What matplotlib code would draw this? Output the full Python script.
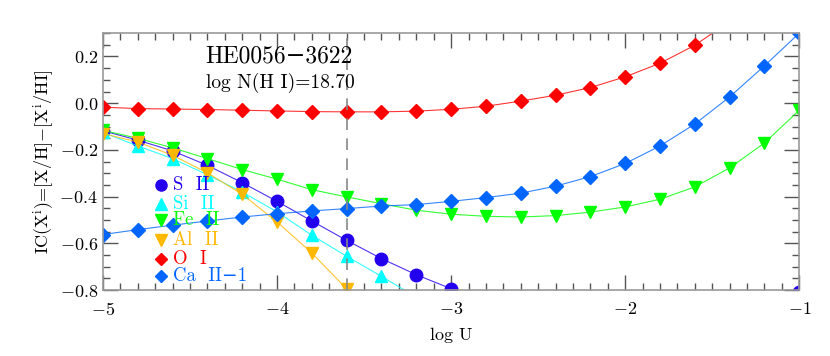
import numpy as np
import matplotlib
matplotlib.use("Agg")
import matplotlib.pyplot as plt
from matplotlib.ticker import MultipleLocator

plt.rcParams['font.family'] = ['cmr10', 'DejaVu Serif']
plt.rcParams['mathtext.fontset'] = 'cm'
plt.rcParams['axes.formatter.use_mathtext'] = True

# log U grid
logU = np.round(np.arange(-5.0, -0.99, 0.2), 1)

# ionisation corrections (nan = off the chart)
s2 = [-0.118, -0.158, -0.204, -0.266, -0.340, -0.420, -0.504, -0.587, -0.665, -0.734, -0.794,
      -0.85, np.nan, np.nan, np.nan, np.nan, np.nan, np.nan, np.nan, np.nan, -0.81]
si2 = [-0.125, -0.183, -0.237, -0.306, -0.380, -0.465, -0.565, -0.655, -0.741, -0.83,
       np.nan, np.nan, np.nan, np.nan, np.nan, np.nan, np.nan, np.nan, np.nan, np.nan, np.nan]
fe2 = [-0.116, -0.150, -0.191, -0.237, -0.284, -0.325, -0.370, -0.401, -0.430, -0.458, -0.475,
       -0.484, -0.487, -0.481, -0.466, -0.444, -0.411, -0.358, -0.277, -0.170, -0.030]
al2 = [-0.130, -0.166, -0.223, -0.298, -0.390, -0.508, -0.641, -0.795, -0.95,
       np.nan, np.nan, np.nan, np.nan, np.nan, np.nan, np.nan, np.nan, np.nan, np.nan, np.nan, np.nan]
o1 = [-0.017, -0.023, -0.025, -0.027, -0.030, -0.033, -0.036, -0.037, -0.037, -0.034, -0.026,
      -0.013, 0.009, 0.034, 0.067, 0.113, 0.171, 0.248, 0.35, np.nan, np.nan]
ca2 = [-0.562, -0.541, -0.522, -0.504, -0.487, -0.473, -0.461, -0.451, -0.440, -0.434, -0.420,
       -0.404, -0.385, -0.355, -0.314, -0.258, -0.183, -0.089, 0.027, 0.160, 0.300]

labels = ["S  II", "Si  II", "Fe  II", "Al  II", "O  I", "Ca  II\u22121"]
colors = ["#2200ee", "#00ffff", "#00ff00", "#ffb800", "#ff0000", "#0066ff"]
markers = ["o", "^", "v", "v", "D", "D"]
msizes = [9, 9, 9, 9, 7, 7]
series = [s2, si2, fe2, al2, o1, ca2]

fig = plt.figure(figsize=(8.3, 3.56), dpi=100)
ax = fig.add_axes([0.124, 0.185, 0.839, 0.722])

for y, c, m, ms in zip(series, colors, markers, msizes):
    ax.plot(logU, y, color=c, lw=0.8, alpha=0.8)
    ax.plot(logU, y, ls="none", marker=m, ms=ms, color=c, mec=c)

ax.axvline(-3.6, color="#888888", lw=1.2, ls=(0, (7, 5)))

ax.set_xlim(-5, -1)
ax.set_ylim(-0.8, 0.3)

ax.text(-4.41, 0.2, "HE0056\u22123622", fontsize=17, va="center", ha="left")
ax.text(-4.41, 0.085, "log N(H I)=18.70", fontsize=14, va="center", ha="left")

# legend written by hand, symbol + coloured label
ly = [-0.351, -0.43, -0.50, -0.584, -0.665, -0.741]
for yy, lab, c, m in zip(ly, labels, colors, markers):
    ax.plot([-4.665], [yy], ls="none", marker=m, ms=8 if m in "o^v" else 6, color=c)
    ax.text(-4.6, yy, lab, color=c, fontsize=13.5, va="center", ha="left")

ax.set_xlabel("log U", fontsize=13, labelpad=7)
ax.set_ylabel(r"IC(X$^{\rm i}$)=[X/H]$-$[X$^{\rm i}$/HI]", fontsize=13, labelpad=2)

ax.xaxis.set_major_locator(MultipleLocator(1))
ax.xaxis.set_minor_locator(MultipleLocator(0.1))
ax.yaxis.set_major_locator(MultipleLocator(0.2))
ax.yaxis.set_minor_locator(MultipleLocator(0.05))
ax.tick_params(which="both", direction="in", top=True, right=True, colors="#555555",
               labelcolor="black", labelsize=13)
ax.tick_params(which="major", length=11, width=1)
ax.tick_params(which="minor", length=5, width=1)
ax.tick_params(axis="x", pad=8)
for sp in ax.spines.values():
    sp.set_color("#999999")
    sp.set_linewidth(1.2)

fig.savefig("out.png", dpi=100)
